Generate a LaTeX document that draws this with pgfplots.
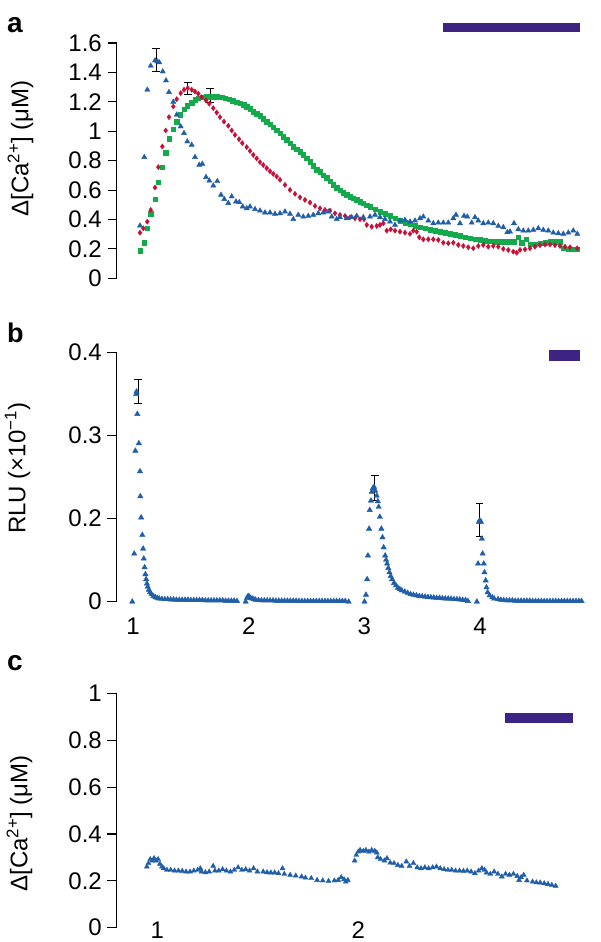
\documentclass[border=0pt]{standalone}
\usepackage{fontspec}
\setmainfont{Liberation Sans}
\usepackage{pgfplots}
\pgfplotsset{compat=1.18}
\definecolor{cblue}{RGB}{33,94,168}
\definecolor{cred}{RGB}{200,16,56}
\definecolor{cgreen}{RGB}{18,170,74}
\definecolor{cpurple}{RGB}{62,36,130}
\pgfplotsset{
  panel/.style={
    scale only axis, clip=false, anchor=south west,
    axis lines=left, axis line style={-},
    x axis line style={draw=none},
    y axis line style={line width=1.1pt, black},
    xtick style={draw=none},
    ytick style={line width=1.1pt, black},
    tick align=outside, major tick length=9pt,
    ymin=0,
    tick label style={font=\fontsize{24}{28}\selectfont},
    label style={font=\fontsize{24}{28}\selectfont},
    /pgf/number format/assume math mode=true,
    yticklabel style={anchor=east, inner sep=0pt, xshift=-5.5pt},
    xticklabel style={anchor=north, inner sep=0pt},
  },
  bluem/.style={only marks, mark=triangle*, mark size=3.0pt, color=cblue, mark options={draw=none, fill=cblue}},
  redm/.style={only marks, mark=diamond*, mark size=2.6pt, color=cred, mark options={draw=none, fill=cred}},
  greenm/.style={only marks, mark=square*, mark size=2.3pt, color=cgreen, mark options={draw=none, fill=cgreen}},
  errb/.style={black, mark=none, forget plot, error bars/.cd, y dir=both, y explicit,
    error bar style={line width=0.8pt, black}, error mark options={line width=0.8pt, black, mark size=3.8pt, rotate=90}},
  bar/.style={cpurple, mark=none, forget plot},
}
\begin{document}
\begin{tikzpicture}
\useasboundingbox (0pt,0pt) rectangle (600pt,-942pt);
\node[anchor=base west, inner sep=0pt, font=\bfseries\fontsize{28}{32}\selectfont] at (7pt,-33pt) {a};
\node[anchor=base west, inner sep=0pt, font=\bfseries\fontsize{27}{32}\selectfont] at (7pt,-342pt) {b};
\node[anchor=base west, inner sep=0pt, font=\bfseries\fontsize{28}{32}\selectfont] at (7pt,-670pt) {c};

% ---------------- panel a ----------------
\begin{axis}[panel, at={(116.5pt,-278.3pt)}, width=468.5pt, height=235.3pt,
  xmin=116.5, xmax=585, ymax=1.6, xtick=\empty,
  ytick={0,0.2,0.4,0.6,0.8,1,1.2,1.4,1.6},
  ylabel={Δ[Ca\textsuperscript{2+}] (μM)},
  ylabel style={at={(axis description cs:-0.205,0.552)}, anchor=center}]
\addplot[bar, line width=9.5pt] coordinates {(443,1.704) (580,1.704)};
\addplot[greenm] coordinates {
(140,0.188) (144.3,0.242) (147.3,0.340) (150.7,0.438) (155,0.538) (158.3,0.654)
(162.3,0.756) (165.7,0.855) (169,0.948) (173.3,1.014) (176.7,1.066) (180,1.112)
(184,1.150) (187.3,1.173) (191.7,1.195) (195,1.214) (198.3,1.225) (202.7,1.232)
(206.7,1.236) (210,1.236) (214,1.236) (217.3,1.236) (221.7,1.232) (225,1.225)
(229,1.218) (232.7,1.209) (236.7,1.198) (240,1.191) (243.5,1.180) (246.7,1.168)
(250,1.152) (253.3,1.134) (256.7,1.120) (260,1.105) (263.3,1.086) (266.7,1.066)
(270,1.047) (273.3,1.028) (276.7,1.008) (280,0.987) (283.3,0.964) (286.7,0.941)
(290,0.918) (293.3,0.896) (296.7,0.879) (300,0.862) (303.3,0.840) (306.7,0.817)
(310,0.794) (313.3,0.765) (316.7,0.740) (320,0.726) (323.3,0.700) (326.7,0.685)
(330,0.660) (333.3,0.635) (336.7,0.615) (340,0.598) (343.3,0.583) (346.7,0.568)
(350,0.555) (353.3,0.545) (356.7,0.533) (360,0.522) (363.3,0.511) (366.7,0.498)
(370,0.487) (375,0.470) (380,0.453) (385,0.438) (390,0.424) (395,0.408)
(400,0.392) (405,0.378) (410,0.370) (415,0.356) (420,0.347) (425,0.340)
(430,0.329) (435,0.324) (440,0.317) (445,0.310) (450,0.302) (455,0.295)
(460,0.288) (465,0.279) (470,0.272) (475,0.265) (480,0.261) (485,0.256)
(490,0.252) (495,0.249) (500,0.249) (505,0.249) (510,0.249) (514,0.249)
(518.3,0.279) (521.7,0.242) (526,0.265) (530,0.233) (535,0.233) (540,0.238)
(545,0.242) (550,0.249) (555,0.249) (560,0.249) (563.3,0.204) (568.3,0.197)
(573.3,0.197) (577.3,0.197)};
\addplot[redm] coordinates {
(140,0.310) (143.3,0.340) (147.3,0.385) (150.7,0.465) (155,0.617) (158.3,0.756)
(162.3,0.896) (165.7,1.005) (169,1.096) (173.3,1.168) (176.7,1.218) (180.7,1.259)
(184,1.282) (187.7,1.293) (191.7,1.282) (195,1.270) (198.3,1.255) (201.7,1.232)
(206,1.209) (209.3,1.187) (213.3,1.157) (216.7,1.127) (220,1.096) (224,1.066)
(228.3,1.037) (231.7,1.005) (235,0.975) (239,0.946) (242.3,0.919) (246.7,0.892)
(250,0.866) (253.3,0.839) (256.7,0.815) (260,0.790) (263.3,0.770) (266.7,0.749)
(270,0.728) (273.3,0.710) (276.7,0.692) (280,0.670) (285,0.635) (290,0.601)
(295,0.574) (300,0.551) (305,0.533) (310,0.515) (315,0.492) (320,0.476)
(325,0.465) (330,0.460) (335,0.442) (340,0.431) (345,0.424) (350,0.415)
(355,0.408) (360,0.402) (364,0.402) (366.7,0.363) (371.7,0.351) (376.7,0.356)
(380,0.363) (383.3,0.374) (386.7,0.324) (390.7,0.333) (395,0.324) (400,0.317)
(405,0.310) (410,0.302) (413.3,0.324) (416.7,0.317) (419.3,0.279) (423.3,0.265)
(428.3,0.265) (433.3,0.265) (438.3,0.261) (443.3,0.242) (448.3,0.238) (453.3,0.242)
(458.3,0.227) (463.3,0.220) (468.3,0.211) (473.3,0.204) (478.3,0.220) (483.3,0.227)
(488.3,0.215) (493.3,0.220) (498.3,0.215) (503.3,0.200) (508.3,0.193) (513.3,0.181)
(516.7,0.174) (520,0.193) (525,0.197) (530,0.204) (535,0.215) (540,0.225)
(545,0.230) (550,0.230) (555,0.225) (560,0.220) (565,0.215) (570,0.211) (577.3,0.204)};
\addplot[bluem] coordinates {
(140,0.358) (144.3,0.824) (147.3,1.282) (150.7,1.445) (155,1.481) (157.3,1.474)
(159.3,1.468) (162.7,1.406) (166,1.345) (169,1.266) (173.3,1.200) (176.7,1.112)
(180.7,1.032) (184,0.987) (187.3,0.930) (191.7,0.907) (195,0.824) (199.3,0.771)
(202.3,0.778) (206,0.688) (209.3,0.664) (213.3,0.630) (217.3,0.660) (221,0.567)
(224.3,0.538) (228.3,0.511) (231.7,0.556) (236,0.521) (239.3,0.517) (242.7,0.487)
(246.7,0.476) (250,0.487) (255,0.470) (260,0.460) (265,0.447) (270,0.447)
(275,0.438) (280,0.442) (285,0.453) (290,0.438) (293.3,0.402) (298.3,0.431)
(303.3,0.419) (308.3,0.424) (313.3,0.431) (318.3,0.442) (323.3,0.447) (328.3,0.453)
(331.7,0.419) (336.7,0.402) (340,0.415) (346.7,0.408) (351.7,0.415) (356.7,0.424)
(363.3,0.415) (370,0.419) (375,0.431) (380,0.415) (385,0.402) (390,0.385)
(395,0.363) (400,0.392) (405,0.397) (410,0.385) (415,0.392) (420,0.408)
(423.3,0.419) (428.3,0.392) (433.3,0.374) (438.3,0.378) (443.3,0.378) (448.3,0.378)
(453.3,0.408) (456,0.431) (460,0.374) (464,0.424) (467.3,0.419) (471.7,0.378)
(475,0.415) (478.3,0.392) (483.3,0.374) (488.3,0.378) (493.3,0.374) (498.3,0.356)
(503.3,0.347) (507.3,0.313) (510,0.317) (514,0.374) (518.3,0.333) (523.3,0.324)
(528.3,0.324) (533.3,0.329) (538.3,0.340) (543.3,0.329) (548.3,0.324) (553.3,0.310)
(558.3,0.306) (563.3,0.302) (568.3,0.310) (573.3,0.324) (577.3,0.302)};
\addplot[errb] coordinates {(156,1.484) +- (0,0.077)};
\addplot[errb] coordinates {(187.7,1.290) +- (0,0.042)};
\addplot[errb] coordinates {(210,1.245) +- (0,0.048)};
\end{axis}

% ---------------- panel b ----------------
\begin{axis}[panel, at={(116.5pt,-601.7pt)}, width=468.5pt, height=249.4pt,
  xmin=0.857, xmax=4.908, ymax=0.4,
  xtick={1,2,3,4}, xticklabel style={yshift=-7pt},
  ytick={0,0.13333,0.26667,0.4}, yticklabels={0,0.2,0.3,0.4},
  ylabel={RLU (×10\textsuperscript{−1})},
  ylabel style={at={(axis description cs:-0.211,0.535)}, anchor=center}]
\addplot[bar, line width=10.5pt] coordinates {(4.599,0.395) (4.862,0.395)};
\addplot[bluem, mark size=3.1pt] coordinates {
(0.993,0) (1.010,0.077) (1.020,0.242) (1.027,0.333) (1.030,0.337) (1.037,0.301)
(1.050,0.254) (1.060,0.209) (1.063,0.169) (1.070,0.135) (1.080,0.107) (1.087,0.085)
(1.093,0.069) (1.100,0.055) (1.107,0.044) (1.113,0.036) (1.120,0.029) (1.127,0.024)
(1.137,0.019) (1.147,0.015) (1.160,0.012) (1.176,0.009) (1.193,0.007) (1.210,0.006)
(1.226,0.005) (1.250,0.0045) (1.275,0.004) (1.300,0.004) (1.325,0.0035) (1.350,0.0035)
(1.375,0.003) (1.400,0.003) (1.425,0.003) (1.450,0.003) (1.475,0.003) (1.500,0.0025)
(1.525,0.0025) (1.550,0.0025) (1.575,0.0025) (1.600,0.0025) (1.625,0.002) (1.650,0.002)
(1.675,0.002) (1.700,0.002) (1.725,0.002) (1.750,0.002) (1.775,0.002) (1.800,0.0015)
(1.825,0.0015) (1.850,0.0015) (1.875,0.0015) (1.899,0.001)
(1.974,0) (1.985,0.006) (1.995,0.009) (2.005,0.008) (2.015,0.006) (2.030,0.005)
(2.045,0.004) (2.060,0.003) (2.085,0.0025) (2.110,0.002) (2.135,0.002) (2.160,0.002)
(2.185,0.002) (2.210,0.002) (2.235,0.0015) (2.260,0.0015) (2.285,0.0015) (2.310,0.0015)
(2.335,0.0015) (2.360,0.0015) (2.385,0.0015) (2.410,0.0015) (2.435,0.001) (2.460,0.001)
(2.485,0.001) (2.510,0.001) (2.535,0.001) (2.560,0.001) (2.585,0.001) (2.610,0.001)
(2.635,0.001) (2.660,0.001) (2.685,0.001) (2.710,0.001) (2.735,0.001) (2.760,0.001)
(2.785,0.001) (2.810,0.001) (2.835,0.001) (2.864,0)
(3.001,0) (3.014,0.011) (3.024,0.036) (3.031,0.074) (3.041,0.117) (3.047,0.147)
(3.057,0.162) (3.064,0.176) (3.074,0.182) (3.084,0.184) (3.094,0.178) (3.107,0.170)
(3.117,0.161) (3.124,0.152) (3.134,0.136) (3.147,0.117) (3.157,0.103) (3.167,0.087)
(3.180,0.074) (3.188,0.067) (3.197,0.061) (3.207,0.054) (3.217,0.047) (3.228,0.041)
(3.240,0.036) (3.257,0.030) (3.274,0.026) (3.290,0.022) (3.307,0.020) (3.324,0.018)
(3.350,0.016) (3.375,0.014) (3.400,0.012) (3.425,0.011) (3.450,0.010) (3.475,0.009)
(3.500,0.0085) (3.525,0.008) (3.550,0.0075) (3.575,0.007) (3.600,0.0065) (3.625,0.006)
(3.650,0.006) (3.675,0.0055) (3.700,0.005) (3.725,0.005) (3.750,0.0045) (3.775,0.004)
(3.800,0.004) (3.825,0.0035) (3.850,0.003) (3.875,0.0025) (3.896,0.001)
(3.973,0) (3.983,0.061) (3.989,0.128) (3.999,0.130) (4.009,0.128) (4.016,0.101)
(4.023,0.077) (4.033,0.061) (4.039,0.047) (4.049,0.034) (4.056,0.023) (4.066,0.015)
(4.083,0.010) (4.106,0.007) (4.123,0.005) (4.156,0.004) (4.180,0.003) (4.205,0.0025)
(4.230,0.002) (4.255,0.002) (4.280,0.002) (4.305,0.0015) (4.330,0.0015) (4.355,0.0015)
(4.380,0.0015) (4.405,0.0015) (4.430,0.0015) (4.455,0.001) (4.480,0.001) (4.505,0.001)
(4.530,0.001) (4.555,0.001) (4.580,0.001) (4.605,0.001) (4.630,0.001) (4.655,0.001)
(4.680,0.001) (4.705,0.001) (4.730,0.001) (4.755,0.001) (4.780,0.001) (4.805,0.001)
(4.830,0.001) (4.855,0.001) (4.878,0.001)};
\addplot[errb] coordinates {(1.043,0.337) +- (0,0.019)};
\addplot[errb] coordinates {(3.091,0.182) +- (0,0.020)};
\addplot[errb] coordinates {(3.996,0.131) +- (0,0.027)};
\end{axis}

% ---------------- panel c ----------------
\begin{axis}[panel, at={(116.5pt,-927.7pt)}, width=468.5pt, height=234.4pt,
  xmin=0.797, xmax=3.128, ymax=1,
  xtick={1,2}, xticklabel style={yshift=15pt},
  ytick={0,0.2,0.4,0.6,0.8,1},
  ylabel={Δ[Ca\textsuperscript{2+}] (μM)},
  ylabel style={at={(axis description cs:-0.207,0.445)}, anchor=center}]
\addplot[bar, line width=9.5pt] coordinates {(2.730,0.895) (3.068,0.895)};
\addplot[bluem, mark size=2.9pt] coordinates {
(0.948,0.260) (0.956,0.275) (0.965,0.292) (0.975,0.286) (0.984,0.296) (0.994,0.286)
(1.004,0.292) (1.013,0.272) (1.023,0.260) (1.032,0.253) (1.048,0.246) (1.067,0.246)
(1.086,0.243) (1.105,0.243) (1.124,0.242) (1.143,0.239) (1.163,0.239) (1.182,0.243)
(1.201,0.246) (1.214,0.253) (1.220,0.239) (1.239,0.236) (1.258,0.239) (1.278,0.263)
(1.287,0.243) (1.306,0.243) (1.325,0.249) (1.344,0.243) (1.364,0.239) (1.383,0.246)
(1.402,0.257) (1.421,0.246) (1.440,0.249) (1.459,0.243) (1.479,0.253) (1.498,0.239)
(1.527,0.239) (1.546,0.236) (1.565,0.235) (1.584,0.235) (1.603,0.232) (1.623,0.253)
(1.632,0.229) (1.661,0.225) (1.689,0.222) (1.718,0.218) (1.737,0.213) (1.766,0.211)
(1.795,0.203) (1.823,0.201) (1.852,0.199) (1.881,0.201) (1.900,0.203) (1.915,0.215)
(1.929,0.206) (1.938,0.196) (1.948,0.203)
(1.982,0.286) (1.990,0.310) (2.000,0.324) (2.009,0.331) (2.025,0.327) (2.038,0.331)
(2.053,0.324) (2.067,0.331) (2.082,0.327) (2.092,0.320) (2.097,0.300) (2.111,0.292)
(2.130,0.286) (2.143,0.296) (2.159,0.277) (2.178,0.275) (2.197,0.267) (2.216,0.263)
(2.239,0.282) (2.255,0.263) (2.274,0.275) (2.293,0.257) (2.312,0.253) (2.331,0.257)
(2.350,0.253) (2.370,0.257) (2.389,0.260) (2.408,0.253) (2.427,0.249) (2.446,0.246)
(2.465,0.246) (2.484,0.243) (2.504,0.243) (2.523,0.242) (2.542,0.243) (2.561,0.239)
(2.580,0.232) (2.599,0.243) (2.615,0.253) (2.628,0.246) (2.638,0.235) (2.657,0.229)
(2.676,0.239) (2.695,0.229) (2.714,0.218) (2.733,0.229) (2.752,0.225) (2.772,0.229)
(2.791,0.220) (2.800,0.203) (2.810,0.215) (2.823,0.225) (2.839,0.201) (2.867,0.196)
(2.886,0.193) (2.905,0.192) (2.925,0.189) (2.944,0.186) (2.963,0.182) (2.982,0.178)};
\end{axis}
\end{tikzpicture}
\end{document}
